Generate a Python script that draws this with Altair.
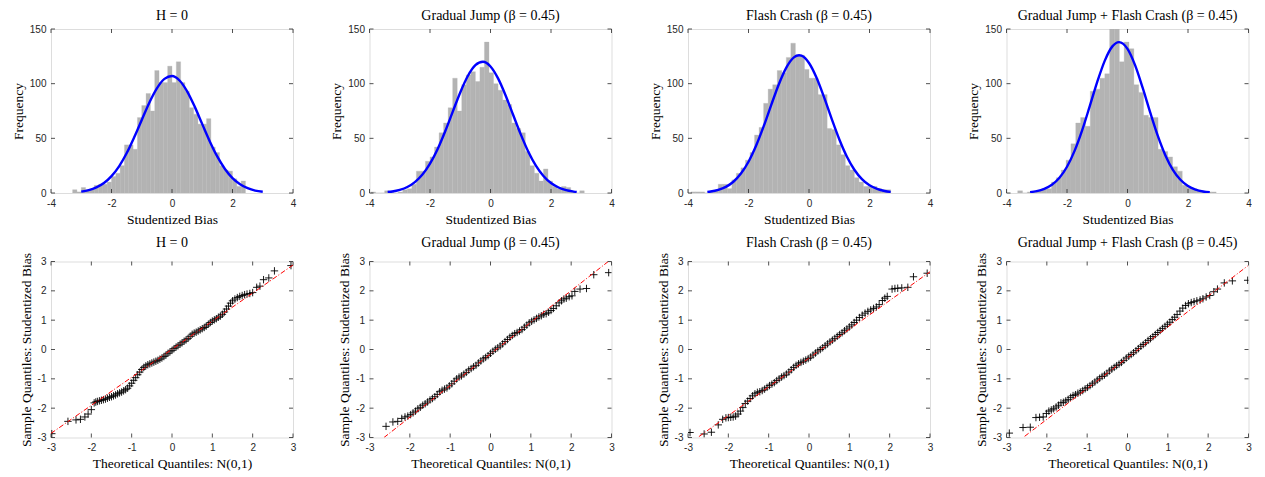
import altair as alt
import pandas as pd

# ---------------- text ----------------
TITLES = ["H = 0", "Gradual Jump (β = 0.45)", "Flash Crash (β = 0.45)",
          "Gradual Jump + Flash Crash (β = 0.45)"]
HIST_XTITLE = "Studentized Bias"
HIST_YTITLE = "Frequency"
QQ_XTITLE = "Theoretical Quantiles: N(0,1)"
QQ_YTITLE = "Sample Quantiles: Studentized Bias"

HIST_XTICKS = [-4, -2, 0, 2, 4]
HIST_YTICKS = [0, 50, 100, 150]
QQ_TICKS = [-3, -2, -1, 0, 1, 2, 3]

# ---------------- histograms (bin start, bin width, counts) ----------------
hist1_start, hist1_width = -3.2857, 0.142857
hist1_counts = [3, 1, 5, 3, 3, 7, 8, 8, 10, 15,
                18, 25, 44, 44, 40, 69, 80, 91, 75, 112,
                101, 101, 116, 101, 120, 101, 93, 78, 72, 63,
                63, 68, 42, 37, 25, 21, 20, 13, 6, 11]
hist2_start, hist2_width = -3.95, 0.15
hist2_counts = [1, 0, 0, 2, 1, 0, 1, 3, 4, 8,
                20, 20, 29, 33, 42, 55, 64, 78, 105, 75,
                99, 108, 111, 102, 115, 138, 110, 100, 94, 85,
                81, 64, 59, 55, 38, 25, 18, 11, 22, 11,
                6, 4, 6, 5, 1, 0, 2]
hist3_start, hist3_width = -3.90, 0.15
hist3_counts = [1, 1, 1, 0, 1, 2, 8, 8, 4, 12,
                18, 23, 30, 37, 53, 60, 82, 95, 99, 112,
                110, 124, 137, 126, 126, 113, 105, 105, 90, 90,
                59, 58, 44, 35, 25, 21, 14, 10, 6, 6,
                6, 4, 3, 3]
hist4_start, hist4_width = -3.63, 0.16
hist4_counts = [2, 0, 1, 1, 2, 4, 4, 10, 14, 21,
                30, 45, 64, 69, 61, 93, 95, 105, 109, 158,
                155, 120, 138, 132, 99, 92, 71, 69, 69, 40,
                38, 33, 24, 20, 7, 5, 4, 2, 1, 1,
                1]

# ---------------- fitted curves ----------------
curve1_x = [-3.0, -2.75, -2.5, -2.25, -2.0, -1.75, -1.5, -1.25, -1.0, -0.75, -0.5, -0.25, 0.0,
            0.25, 0.5, 0.75, 1.0, 1.25, 1.5, 1.75, 2.0, 2.25, 2.5, 2.75, 3.0]
curve1_y = [1.3, 2.6, 5.1, 9.1, 15.4, 24.4, 36.3, 50.9, 66.8, 82.6, 95.7, 104.4, 107.0,
            102.9, 93.0, 79.0, 63.0, 47.2, 33.2, 22.0, 13.6, 8.0, 4.4, 2.2, 1.1]
curve2_x = [-3.4, -3.25, -3.0, -2.75, -2.5, -2.25, -2.0, -1.75, -1.5, -1.25, -1.0, -0.75, -0.5, -0.25,
            0.0, 0.25, 0.5, 0.75, 1.0, 1.25, 1.5, 1.75, 2.0, 2.25, 2.5, 2.75, 2.85]
curve2_y = [0.9, 1.4, 2.9, 5.5, 10.0, 16.9, 26.9, 40.1, 56.3, 74.2, 92.0, 107.0, 116.9, 120.0,
            115.7, 104.8, 89.2, 71.3, 53.6, 37.8, 25.1, 15.6, 9.1, 5.0, 2.6, 1.3, 0.9]
curve3_x = [-3.36, -3.25, -3.0, -2.75, -2.5, -2.25, -2.0, -1.75, -1.5, -1.25, -1.0, -0.75, -0.5, -0.33,
            -0.25, 0.0, 0.25, 0.5, 0.75, 1.0, 1.25, 1.5, 1.75, 2.0, 2.25, 2.5, 2.7]
curve3_y = [1.0, 1.4, 2.9, 5.6, 10.3, 17.8, 28.6, 43.2, 60.9, 80.4, 99.3, 114.7, 124.1, 126.0,
            125.6, 118.9, 105.4, 87.4, 67.8, 49.2, 33.4, 21.3, 12.7, 7.0, 3.7, 1.8, 1.0]
curve4_x = [-3.22, -3.0, -2.75, -2.5, -2.25, -2.0, -1.75, -1.5, -1.25, -1.0, -0.75, -0.5, -0.28,
            0.0, 0.25, 0.5, 0.75, 1.0, 1.25, 1.5, 1.75, 2.0, 2.25, 2.5, 2.72]
curve4_y = [0.8, 1.7, 3.8, 7.5, 13.9, 24.0, 38.5, 57.3, 79.2, 101.6, 121.1, 134.1, 138.0,
            131.8, 116.9, 96.3, 73.7, 52.4, 34.6, 21.2, 12.1, 6.4, 3.1, 1.4, 0.7]

# ---------------- QQ plots: theoretical (x) and sample (y) quantiles ----------------
qq1_x = [-2.98, -2.58, -2.38, -2.27, -2.16, -2.08, -2.00, -1.93, -1.89,
         -1.85, -1.80, -1.75, -1.70, -1.65, -1.60, -1.55, -1.50, -1.45, -1.40,
         -1.35, -1.30, -1.25, -1.20, -1.15, -1.10, -1.05, -1.00, -0.95, -0.90,
         -0.85, -0.80, -0.75, -0.70, -0.65, -0.60, -0.55, -0.50, -0.45, -0.40,
         -0.35, -0.30, -0.25, -0.20, -0.15, -0.10, -0.05, 0.00, 0.05, 0.10,
         0.15, 0.20, 0.25, 0.30, 0.35, 0.40, 0.45, 0.50, 0.55, 0.60,
         0.65, 0.70, 0.75, 0.80, 0.85, 0.90, 0.95, 1.00, 1.05, 1.10,
         1.15, 1.20, 1.25, 1.30, 1.35, 1.40, 1.45, 1.50,
         1.56, 1.62, 1.68, 1.74, 1.80, 1.86, 1.93, 2.00, 2.10, 2.18, 2.27, 2.40, 2.54, 2.95]
qq1_y = [-2.87, -2.45, -2.40, -2.38, -2.30, -2.20, -2.05, -1.82, -1.79,
         -1.77, -1.75, -1.73, -1.71, -1.69, -1.66, -1.63, -1.61, -1.58, -1.55,
         -1.51, -1.48, -1.45, -1.41, -1.37, -1.32, -1.24, -1.15, -1.05, -0.96,
         -0.86, -0.77, -0.68, -0.61, -0.56, -0.52, -0.49, -0.46, -0.43, -0.40,
         -0.37, -0.33, -0.29, -0.24, -0.19, -0.13, -0.08, -0.03, 0.03, 0.08,
         0.13, 0.18, 0.23, 0.28, 0.33, 0.38, 0.45, 0.52, 0.56, 0.59,
         0.63, 0.67, 0.71, 0.75, 0.80, 0.86, 0.92, 0.97, 1.01, 1.05,
         1.10, 1.14, 1.20, 1.28, 1.38, 1.48, 1.58, 1.66,
         1.72, 1.77, 1.81, 1.84, 1.87, 1.89, 1.91, 1.94, 2.12, 2.16, 2.38, 2.44, 2.68, 2.86]

qq2_x = [-2.59, -2.42, -2.30, -2.20, -2.12, -2.05, -1.98,
         -1.92, -1.86, -1.80, -1.74, -1.68, -1.62, -1.56, -1.50, -1.44, -1.38,
         -1.32, -1.26, -1.20, -1.14, -1.08, -1.02, -0.96, -0.90, -0.84, -0.78,
         -0.72, -0.66, -0.60, -0.54, -0.48, -0.42, -0.36, -0.30, -0.24, -0.18,
         -0.12, -0.06, 0.00, 0.06, 0.12, 0.18, 0.24, 0.30, 0.36, 0.42,
         0.48, 0.54, 0.60, 0.66, 0.72, 0.78, 0.84, 0.90, 0.96, 1.02,
         1.08, 1.14, 1.20, 1.26,
         1.32, 1.38, 1.44, 1.50, 1.56, 1.63, 1.70, 1.76, 1.82, 1.88, 1.95, 2.02, 2.09,
         2.22, 2.38, 2.56, 2.93]
qq2_y = [-2.62, -2.47, -2.45, -2.35, -2.30, -2.27, -2.22,
         -2.16, -2.10, -2.02, -1.97, -1.90, -1.85, -1.79, -1.72, -1.67, -1.61,
         -1.53, -1.44, -1.39, -1.35, -1.31, -1.24, -1.17, -1.08, -1.00, -0.94,
         -0.90, -0.84, -0.78, -0.70, -0.65, -0.59, -0.54, -0.46, -0.39, -0.32,
         -0.27, -0.21, -0.13, -0.06, 0.01, 0.06, 0.12, 0.19, 0.27, 0.34,
         0.42, 0.48, 0.54, 0.58, 0.63, 0.68, 0.76, 0.83, 0.91, 0.96,
         1.01, 1.06, 1.11, 1.15,
         1.20, 1.22, 1.27, 1.33, 1.40, 1.49, 1.59, 1.66, 1.72, 1.75, 1.80, 1.83, 1.98,
         2.06, 2.08, 2.55, 2.62]

qq3_x = [-2.95, -2.60, -2.42, -2.25, -2.14, -2.06, -2.00, -1.94, -1.88, -1.82, -1.76, -1.70, -1.64,
         -1.58, -1.52, -1.46, -1.40, -1.34, -1.28, -1.22, -1.16, -1.10, -1.04,
         -0.98, -0.92, -0.86, -0.80, -0.74, -0.68, -0.62, -0.56, -0.50, -0.44,
         -0.38, -0.32, -0.26, -0.20, -0.14, -0.08, -0.02, 0.04, 0.10, 0.16,
         0.22, 0.28, 0.34, 0.40, 0.46, 0.52, 0.58, 0.64, 0.70, 0.76,
         0.82, 0.88, 0.94, 1.00, 1.06, 1.12, 1.18,
         1.25, 1.32, 1.39, 1.46, 1.53, 1.60, 1.67, 1.74, 1.82, 1.88, 1.94, 2.06, 2.13,
         2.20, 2.30, 2.45, 2.59, 2.93]
qq3_y = [-2.83, -2.88, -2.82, -2.57, -2.38, -2.33, -2.32, -2.31, -2.30, -2.27, -2.20, -2.10, -1.98,
         -1.84, -1.76, -1.67, -1.58, -1.51, -1.46, -1.44, -1.40, -1.35, -1.29,
         -1.23, -1.18, -1.13, -1.06, -1.00, -0.94, -0.89, -0.84, -0.77, -0.69,
         -0.61, -0.54, -0.49, -0.44, -0.40, -0.36, -0.31, -0.26, -0.19, -0.12,
         -0.05, 0.00, 0.06, 0.13, 0.19, 0.26, 0.32, 0.38, 0.45, 0.51,
         0.57, 0.64, 0.70, 0.77, 0.84, 0.92, 1.00,
         1.09, 1.17, 1.24, 1.30, 1.35, 1.40, 1.45, 1.53, 1.67, 1.75, 1.81, 2.06, 2.08,
         2.09, 2.10, 2.12, 2.48, 2.60]

qq4_x = [-2.93, -2.59, -2.41, -2.27, -2.18, -2.09, -2.01, -1.95, -1.89, -1.83, -1.77, -1.71, -1.65,
         -1.59, -1.53, -1.47, -1.41, -1.35, -1.29, -1.23, -1.17, -1.11, -1.05,
         -0.99, -0.93, -0.87, -0.81, -0.75, -0.69, -0.63, -0.57, -0.51, -0.45,
         -0.39, -0.33, -0.27, -0.21, -0.15, -0.09, -0.03, 0.03, 0.09, 0.15,
         0.21, 0.27, 0.33, 0.39, 0.45, 0.51, 0.57, 0.63, 0.69, 0.75,
         0.81, 0.87, 0.93, 0.99, 1.05, 1.11, 1.17, 1.23,
         1.30, 1.37, 1.44, 1.51, 1.58, 1.65, 1.72, 1.80, 1.87, 1.95, 2.04, 2.14, 2.23,
         2.40, 2.60, 2.98]
qq4_y = [-2.85, -2.66, -2.65, -2.32, -2.31, -2.30, -2.18, -2.10, -2.06, -2.02, -1.96, -1.90, -1.82,
         -1.80, -1.75, -1.70, -1.63, -1.57, -1.54, -1.49, -1.45, -1.40, -1.34,
         -1.29, -1.23, -1.17, -1.11, -1.04, -0.98, -0.92, -0.87, -0.81, -0.73,
         -0.67, -0.61, -0.55, -0.50, -0.44, -0.37, -0.29, -0.23, -0.17, -0.11,
         -0.04, 0.03, 0.11, 0.17, 0.23, 0.31, 0.37, 0.44, 0.51, 0.58,
         0.65, 0.72, 0.79, 0.86, 0.93, 1.02, 1.10, 1.19,
         1.31, 1.41, 1.50, 1.56, 1.60, 1.63, 1.66, 1.69, 1.73, 1.79, 1.84, 1.97, 2.06,
         2.27, 2.34, 2.36]

# reference lines (end points)
ref1_x, ref1_y = [-3.0, 3.0], [-2.86, 2.88]
ref2_x, ref2_y = [-2.64, 2.92], [-3.0, 3.0]
ref3_x, ref3_y = [-2.73, 3.0], [-2.97, 2.65]
ref4_x, ref4_y = [-2.55, 2.98], [-2.96, 2.85]

# ---------------- styling ----------------
W = 242
H_TOP = 164
H_BOT = 176
TL = 4
AXIS_COLOR = "#262626"
SERIF = "Liberation Serif"
SANS = "Liberation Sans"


def axis(values, title):
    return alt.Axis(values=values, title=title, labelExpr="'' + datum.value",
                    ticks=False, domain=False, grid=False, labelPadding=5,
                    titlePadding=4, labelFontSize=10, titleFontSize=13.5,
                    labelFont=SANS, titleFont=SERIF, labelColor=AXIS_COLOR,
                    titleColor="#000000", titleFontWeight="normal", labelFlush=False,
                    labelOverlap=False)


def make_title(text, offset):
    return alt.Title(text, font=SERIF, fontSize=14, fontWeight="normal",
                     color="#000000", offset=offset, anchor="middle")


def inner_ticks(xt, yt, xs, ys, xax, yax, h):
    dx = pd.DataFrame({"t": xt})
    dy = pd.DataFrame({"t": yt})
    st = dict(color=AXIS_COLOR, strokeWidth=0.8)
    bot = alt.Chart(dx).mark_rule(**st).encode(
        x=alt.X("t:Q", scale=xs, axis=xax), y=alt.value(h), y2=alt.value(h - TL))
    top = alt.Chart(dx).mark_rule(**st).encode(
        x=alt.X("t:Q", scale=xs, axis=xax), y=alt.value(0), y2=alt.value(TL))
    left = alt.Chart(dy).mark_rule(**st).encode(
        y=alt.Y("t:Q", scale=ys, axis=yax), x=alt.value(0), x2=alt.value(TL))
    right = alt.Chart(dy).mark_rule(**st).encode(
        y=alt.Y("t:Q", scale=ys, axis=yax), x=alt.value(W), x2=alt.value(W - TL))
    return [bot, top, left, right]


def hist_panel(title, start, width, counts, cx, cy):
    lo = [start + i * width for i in range(len(counts))]
    df = pd.DataFrame({"lo": lo, "hi": [v + width for v in lo], "n": counts})
    dc = pd.DataFrame({"x": cx, "y": cy})
    xs = alt.Scale(domain=[-4, 4], nice=False, zero=False)
    ys = alt.Scale(domain=[0, 150], nice=False, zero=False)
    xax = axis(HIST_XTICKS, HIST_XTITLE)
    yax = axis(HIST_YTICKS, HIST_YTITLE)
    bars = alt.Chart(df).mark_rect(color="#b3b3b3", stroke="#b3b3b3", strokeWidth=0.3,
                                   clip=True).encode(
        x=alt.X("lo:Q", scale=xs, axis=xax), x2="hi:Q",
        y=alt.Y("n:Q", scale=ys, axis=yax), y2=alt.datum(0))
    curve = alt.Chart(dc).mark_line(color="#0000ff", strokeWidth=2.4,
                                    interpolate="monotone", clip=True).encode(
        x=alt.X("x:Q", scale=xs, axis=xax), y=alt.Y("y:Q", scale=ys, axis=yax))
    layers = [bars, curve] + inner_ticks(HIST_XTICKS, HIST_YTICKS, xs, ys, xax, yax, H_TOP)
    return alt.layer(*layers).properties(width=W, height=H_TOP, title=make_title(title, 1))


def qq_panel(title, qx, qy, rx, ry):
    df = pd.DataFrame({"x": qx, "y": qy})
    dr = pd.DataFrame({"x": rx, "y": ry})
    xs = alt.Scale(domain=[-3, 3], nice=False, zero=False)
    ys = alt.Scale(domain=[-3, 3], nice=False, zero=False)
    xax = axis(QQ_TICKS, QQ_XTITLE)
    yax = axis(QQ_TICKS, QQ_YTITLE)
    pts = alt.Chart(df).mark_point(shape="M-1,0L1,0M0,-1L0,1", filled=False, color="#000000",
                                   strokeWidth=0.9, size=55, opacity=1, clip=True).encode(
        x=alt.X("x:Q", scale=xs, axis=xax), y=alt.Y("y:Q", scale=ys, axis=yax))
    ref = alt.Chart(dr).mark_line(color="#ff0000", strokeWidth=1, strokeDash=[5, 2, 1, 2],
                                  clip=True).encode(
        x=alt.X("x:Q", scale=xs, axis=xax), y=alt.Y("y:Q", scale=ys, axis=yax))
    layers = [pts, ref] + inner_ticks(QQ_TICKS, QQ_TICKS, xs, ys, xax, yax, H_BOT)
    return alt.layer(*layers).properties(width=W, height=H_BOT, title=make_title(title, 3))


panels = [
    hist_panel(TITLES[0], hist1_start, hist1_width, hist1_counts, curve1_x, curve1_y),
    hist_panel(TITLES[1], hist2_start, hist2_width, hist2_counts, curve2_x, curve2_y),
    hist_panel(TITLES[2], hist3_start, hist3_width, hist3_counts, curve3_x, curve3_y),
    hist_panel(TITLES[3], hist4_start, hist4_width, hist4_counts, curve4_x, curve4_y),
    qq_panel(TITLES[0], qq1_x, qq1_y, ref1_x, ref1_y),
    qq_panel(TITLES[1], qq2_x, qq2_y, ref2_x, ref2_y),
    qq_panel(TITLES[2], qq3_x, qq3_y, ref3_x, ref3_y),
    qq_panel(TITLES[3], qq4_x, qq4_y, ref4_x, ref4_y),
]

chart = alt.concat(*panels, columns=4, spacing={"row": 68.5, "column": 76.5},
                   bounds="flush").properties(
    padding={"left": 2, "top": 0, "right": 0, "bottom": 0}
).configure_view(
    stroke=AXIS_COLOR, strokeWidth=0.8
).configure(background="white")

chart.save("out.html", embed_options={"renderer": "svg", "actions": False})
